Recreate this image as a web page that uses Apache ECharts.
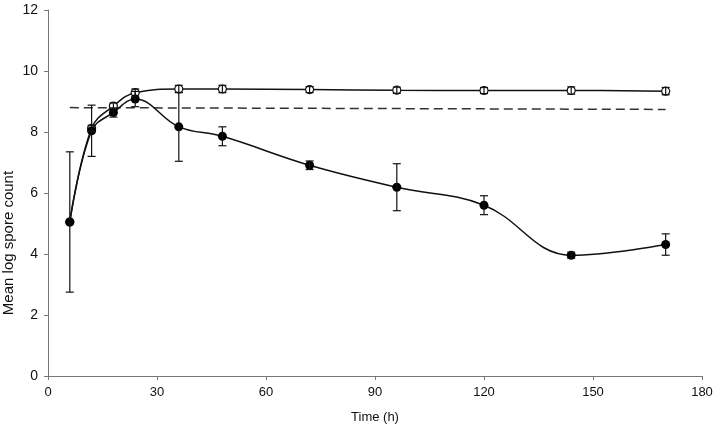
<!DOCTYPE html>
<html>
<head>
<meta charset="utf-8">
<script src="https://cdn.jsdelivr.net/npm/echarts@6/dist/echarts.min.js"></script>
<style>html,body{margin:0;padding:0;background:#fff}#c{width:716px;height:429px}</style>
</head>
<body>
<div id="c"></div>
<script>
const times = [6, 12, 18, 24, 36, 48, 72, 96, 120, 144, 170];
const filledMean = [5.05, 8.04, 8.64, 9.08, 8.17, 7.86, 6.91, 6.19, 5.60, 3.96, 4.31];
const filledErr = [2.3, 0.84, 0.15, 0.25, 1.13, 0.31, 0.14, 0.77, 0.31, 0.1, 0.35];
const openMean = [5.05, 8.12, 8.85, 9.29, 9.41, 9.41, 9.39, 9.37, 9.36, 9.36, 9.34];
const openErr = [0, 0.1, 0.1, 0.12, 0.12, 0.12, 0.1, 0.1, 0.1, 0.12, 0.12];
const refTimes = [6, 170];
const refValues = [8.80, 8.74];
const xTicks = [0, 30, 60, 90, 120, 150, 180];
const yTicks = [0, 2, 4, 6, 8, 10, 12];

const pts = (xs, ys) => xs.map((x, i) => [x, ys[i]]);
const errData = (xs, m, e) => xs.map((x, i) => [x, m[i] - e[i], m[i] + e[i]]).filter((d, i) => e[i] > 0);

function errRender(params, api) {
  const x = api.value(0);
  const lo = api.coord([x, api.value(1)]);
  const hi = api.coord([x, api.value(2)]);
  const w = 4;
  const st = { stroke: '#111', lineWidth: 1.2 };
  return {
    type: 'group',
    children: [
      { type: 'line', shape: { x1: lo[0], y1: lo[1], x2: hi[0], y2: hi[1] }, style: st },
      { type: 'line', shape: { x1: lo[0] - w, y1: lo[1], x2: lo[0] + w, y2: lo[1] }, style: st },
      { type: 'line', shape: { x1: hi[0] - w, y1: hi[1], x2: hi[0] + w, y2: hi[1] }, style: st }
    ]
  };
}

const chart = echarts.init(document.getElementById('c'));
const font = 'Liberation Sans, Arial, sans-serif';
chart.setOption({
  animation: false,
  grid: { left: 48, right: 14, top: 10, bottom: 53 },
  xAxis: {
    type: 'value', min: xTicks[0], max: xTicks[xTicks.length - 1], interval: 30,
    name: 'Time (h)', nameLocation: 'middle', nameGap: 35,
    nameTextStyle: { fontFamily: font, fontSize: 13, color: '#111' },
    axisLine: { lineStyle: { color: '#777', width: 1 } },
    axisTick: { show: true, length: 4, lineStyle: { color: '#777' } },
    axisLabel: { fontFamily: font, fontSize: 13, color: '#111', margin: 10 },
    splitLine: { show: false }
  },
  yAxis: {
    type: 'value', min: yTicks[0], max: yTicks[yTicks.length - 1], interval: 2,
    axisLine: { show: true, lineStyle: { color: '#777', width: 1 } },
    axisTick: { show: true, length: 4, lineStyle: { color: '#777' } },
    axisLabel: { fontFamily: font, fontSize: 14, color: '#111', margin: 10 },
    splitLine: { show: false }
  },
  graphic: [{
    type: 'text', x: 9, y: 243, rotation: Math.PI / 2,
    style: { text: 'Mean log spore count', font: '15px ' + font, fill: '#111', textAlign: 'center', textVerticalAlign: 'middle' }
  }],
  series: [
    {
      type: 'line', data: pts(refTimes, refValues), symbol: 'none',
      lineStyle: { color: '#333', width: 1.5, type: [9, 5] }, z: 1
    },
    {
      type: 'line', data: pts(times, openMean), smooth: 0.4,
      symbol: 'circle', symbolSize: 8,
      itemStyle: { color: '#fff', borderColor: '#111', borderWidth: 1.2 },
      lineStyle: { color: '#111', width: 1.5 }, z: 2
    },
    {
      type: 'custom', renderItem: errRender, data: errData(times, openMean, openErr), z: 5, silent: true
    },
    {
      type: 'line', data: pts(times, filledMean), smooth: 0.4,
      symbol: 'circle', symbolSize: 9,
      itemStyle: { color: '#000', borderColor: '#000', borderWidth: 0 },
      lineStyle: { color: '#111', width: 1.5 }, z: 3
    },
    {
      type: 'custom', renderItem: errRender, data: errData(times, filledMean, filledErr), z: 4, silent: true
    }
  ]
});
</script>
</body>
</html>
